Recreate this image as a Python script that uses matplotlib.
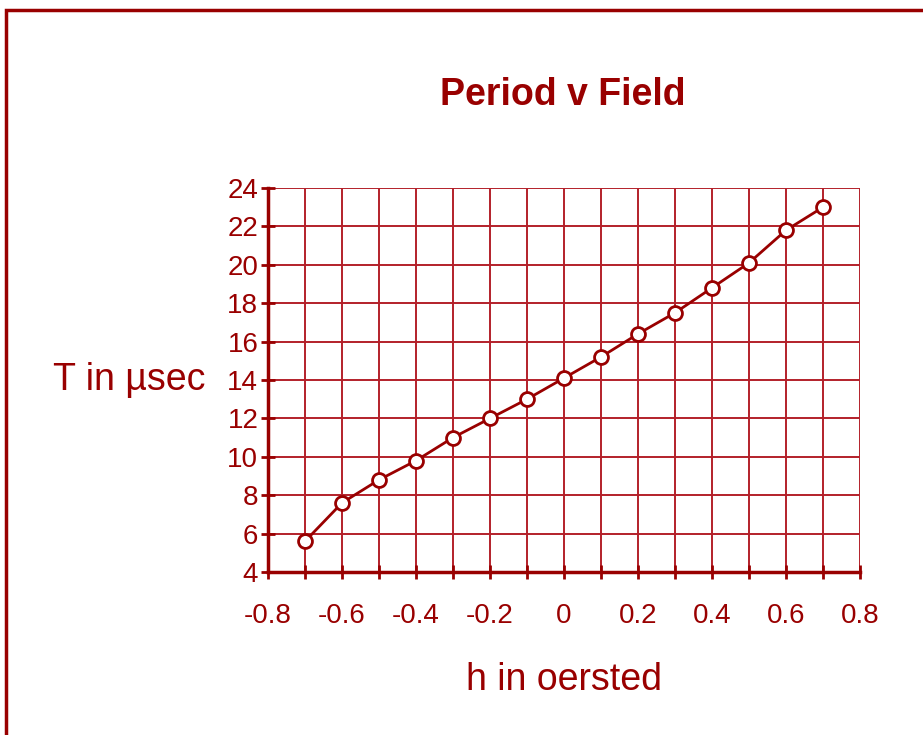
import matplotlib
matplotlib.use("Agg")
import matplotlib.pyplot as plt
from matplotlib.patches import Rectangle
from matplotlib.ticker import MultipleLocator, FuncFormatter

h_field = [-0.7, -0.6, -0.5, -0.4, -0.3, -0.2, -0.1, 0.0, 0.1, 0.2, 0.3, 0.4, 0.5, 0.6, 0.7]
period = [5.6, 7.6, 8.8, 9.8, 11.0, 12.0, 13.0, 14.1, 15.2, 16.4, 17.5, 18.8, 20.1, 21.8, 23.0]

title = "Period v Field"
xlabel = "h in oersted"
ylabel = "T in µsec"

plt.rcParams['font.family'] = ['Liberation Sans', 'DejaVu Sans']
dark = '#990000'
gridc = '#B3202A'

fig = plt.figure(figsize=(9.23, 7.35), dpi=100)
ax = fig.add_axes([268/923, 1-572/735, (860-268)/923, (572-188)/735])

ax.plot(h_field, period, color=dark, lw=2, marker='o', markersize=10,
        markerfacecolor='white', markeredgecolor=dark, markeredgewidth=2, zorder=5, clip_on=False)

ax.set_xlim(-0.8, 0.8)
ax.set_ylim(4, 24)
ax.xaxis.set_major_locator(MultipleLocator(0.2))
ax.xaxis.set_minor_locator(MultipleLocator(0.1))
ax.yaxis.set_major_locator(MultipleLocator(2))

def fmt(v, pos):
    if abs(v) < 1e-9:
        return "0"
    return f"{v:.1f}"
ax.xaxis.set_major_formatter(FuncFormatter(fmt))

ax.grid(True, which='both', axis='x', color=gridc, lw=1.4)
ax.grid(True, which='major', axis='y', color=gridc, lw=1.4)
ax.set_axisbelow(True)

for s in ['top', 'right']:
    ax.spines[s].set_visible(False)
for s in ['left', 'bottom']:
    ax.spines[s].set_color(dark)
    ax.spines[s].set_linewidth(2.5)

ax.tick_params(axis='both', which='both', direction='inout', length=10, width=2, color=dark,
               labelcolor=dark, labelsize=20)
ax.tick_params(axis='x', pad=17)
ax.tick_params(axis='y', pad=2)

ax.set_xlabel(xlabel, fontsize=27, color=dark, labelpad=24)
ax.set_ylabel(ylabel, fontsize=27, color=dark, rotation=0, ha='right', va='center')
ax.yaxis.set_label_coords(-0.105, 0.5)

fig.text(563/923, 1-95/735, title, fontsize=27, fontweight='bold', color=dark, ha='center', va='center')

fig.patches.append(Rectangle((6/923, -0.1), 2, 1-10/735+0.1, transform=fig.transFigure,
                             fill=False, edgecolor=dark, lw=2.5))

fig.savefig("out.png", dpi=100)
